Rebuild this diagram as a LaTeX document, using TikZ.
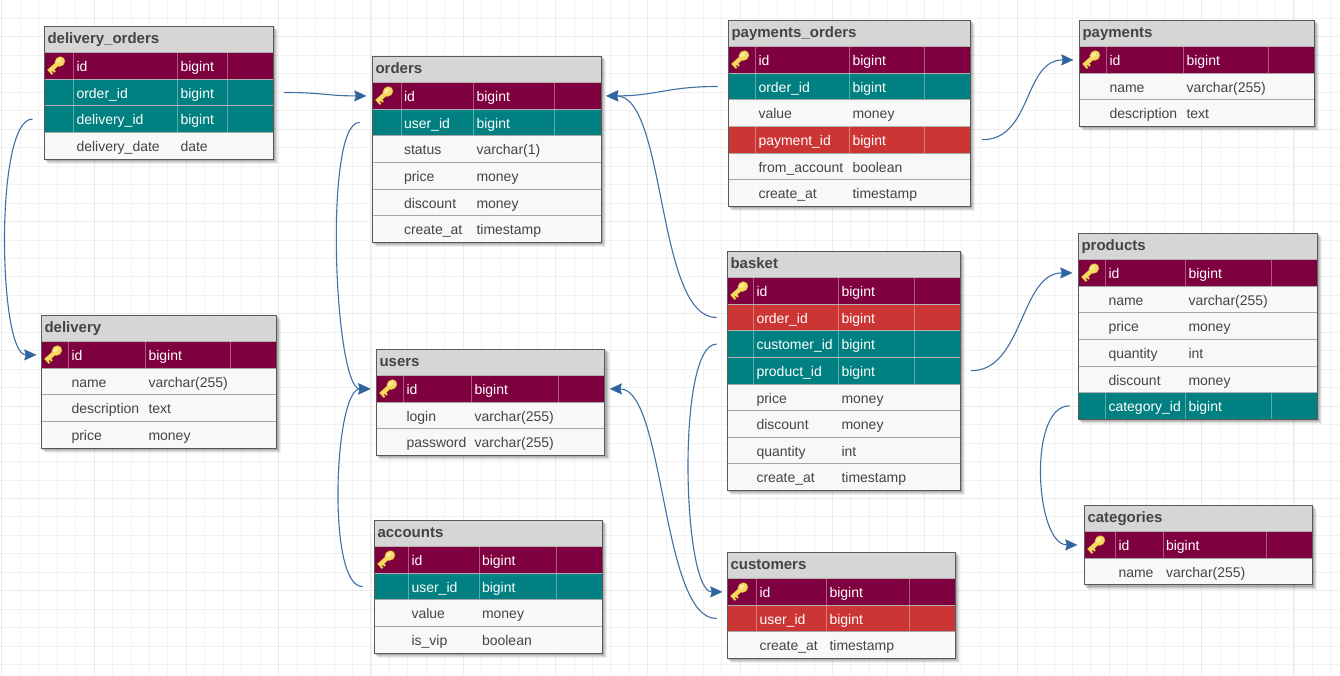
\documentclass[tikz,border=0pt]{standalone}
\usepackage{fontspec}
\setmainfont{Liberation Sans}
\usetikzlibrary{calc,arrows.meta}
\catcode`\_=12
\definecolor{pkcol}{HTML}{7F003F}
\definecolor{fkcol}{HTML}{008080}
\definecolor{redcol}{HTML}{CB3534}
\definecolor{plaincol}{HTML}{F8F8F8}
\definecolor{headcol}{HTML}{D6D6D6}
\definecolor{wirecol}{HTML}{3F6FA5}
\definecolor{tipcol}{HTML}{2F659F}
\definecolor{txtcol}{HTML}{444444}
\definecolor{keyfill}{HTML}{F6D862}
\definecolor{keyedge}{HTML}{C89B22}
\tikzset{
  x=1pt,y=-1pt,
  rowbox/.style={rectangle,inner sep=0pt,outer sep=0pt,anchor=north west,draw=none,minimum height=26.6pt},
  pk/.style={rowbox,fill=pkcol},
  fk/.style={rowbox,fill=fkcol},
  rd/.style={rowbox,fill=redcol},
  pl/.style={rowbox,fill=plaincol},
  headbox/.style={rowbox,fill=headcol},
  celltxt/.style={anchor=base west,inner sep=0pt,font=\fontsize{14}{14}\selectfont},
  hdrtxt/.style={anchor=base west,inner sep=0pt,text=txtcol,font=\fontsize{15}{15}\selectfont\bfseries},
  wire/.style={draw=wirecol,line width=1.1pt,line cap=round},
  wirearrow/.style={wire,-{Stealth[inset=1.5pt,length=12pt,width=11pt,color=tipcol,fill=tipcol,line width=.2pt]}},
  gridminor/.style={draw=black!5,line width=.6pt},
  gridmajor/.style={draw=black!8,line width=.8pt},
}
% \dbtable{id}{title}{x0}{x1}{y0}{c1}{c2}{c3}{rows}
\newcommand{\dbtable}[9]{%
  \pgfmathsetmacro{\tw}{#4-#3}
  \foreach \st/\fa/\fb [count=\k] in {#9}{\xdef\lastk{\k}}
  \pgfmathsetmacro{\th}{26.6*(\lastk+1)}
  \foreach \o/\a in {5/.06,4/.08,3/.10,2/.12}{
    \fill[black,opacity=\a] (#3+\o-1,#5+\o-1) rectangle (#4+\o,#5+\th+\o);
  }
  \node[headbox,minimum width=\tw pt] (#1) at (#3,#5) {};
  \node[hdrtxt] (#1-title) at (#3+3,#5+17.5) {#2};
  \foreach \st/\fa/\fb [count=\k] in {#9}{
    \pgfmathsetmacro{\yy}{#5+26.6*\k}
    \node[\st,minimum width=\tw pt] (#1-\fa) at (#3,\yy) {};
    \ifnum\pdfstrcmp{\st}{pl}=0 \def\tc{txtcol}\def\lc{black!35}\else \def\tc{white}\def\lc{black!30}\fi
    \node[celltxt,text=\tc] (#1-\fa-name) at (#6+3,\yy+19) {\fa};
    \node[celltxt,text=\tc] (#1-\fa-type) at (#7+3,\yy+19) {\fb};
    \draw[white,opacity=.35,line width=.6pt] (#6,\yy) -- (#6,\yy+26.6) (#7,\yy) -- (#7,\yy+26.6) (#8,\yy) -- (#8,\yy+26.6);
    \draw[\lc,line width=.8pt] (#3,\yy) -- (#4,\yy);
  }
  \draw[black!65,line width=1pt] (#3,#5) rectangle (#4,#5+\th);
  \drawkey{#3+12}{#5+38.8}
}
\newcommand{\drawkey}[2]{%
  \begin{scope}[shift={(#1,#2)},rotate=42]
    \fill[keyedge] (-10.2,-2.4) rectangle (3,2.4) (-10.2,1) rectangle (-8,4.6) (-6.8,1) rectangle (-4.6,4.6);
    \fill[keyedge] (4.8,0) ellipse (5.6 and 5);
    \fill[keyfill] (-9.8,-1.9) rectangle (3,1.9) (-9.8,1) rectangle (-8.4,4.1) (-6.4,1) rectangle (-5,4.1);
    \fill[keyfill] (4.8,0) ellipse (5 and 4.4);
    \fill[white,opacity=.45] (4.5,-1.4) ellipse (3 and 1.6);
  \end{scope}
}
\begin{document}
\begin{tikzpicture}
\useasboundingbox (0,0) rectangle (1340,675);
\fill[white] (0,0) rectangle (1340,675);
\begin{scope}
\clip (0,0) rectangle (1340,675);
\foreach \i in {0,...,72} \draw[gridminor] (1.6+18.46*\i,0) -- (1.6+18.46*\i,675);
\foreach \i in {0,...,37} \draw[gridminor] (0,18.3+18.46*\i) -- (1340,18.3+18.46*\i);
\foreach \i in {0,...,14} \draw[gridmajor] (1.6+92.3*\i,0) -- (1.6+92.3*\i,675);
\foreach \i in {0,...,7} \draw[gridmajor] (0,36.8+92.3*\i) -- (1340,36.8+92.3*\i);
\end{scope}
\begin{scope}[shift={(-0.7,0)}]
\dbtable{delivery_orders}{delivery_orders}{45}{274}{26}{74}{178}{227.5}{pk/id/bigint,fk/order_id/bigint,fk/delivery_id/bigint,pl/delivery_date/date}
\dbtable{orders}{orders}{373}{602}{56}{401.5}{474}{555}{pk/id/bigint,fk/user_id/bigint,pl/status/varchar(1),pl/price/money,pl/discount/money,pl/create_at/timestamp}
\dbtable{delivery}{delivery}{42}{277}{315}{69}{146}{231}{pk/id/bigint,pl/name/varchar(255),pl/description/text,pl/price/money}
\dbtable{users}{users}{377}{605.5}{349}{404}{472}{559}{pk/id/bigint,pl/login/varchar(255),pl/password/varchar(255)}
\dbtable{accounts}{accounts}{375}{603}{520}{409}{479.5}{557}{pk/id/bigint,fk/user_id/bigint,pl/value/money,pl/is_vip/boolean}
\dbtable{payments_orders}{payments_orders}{729}{971}{20}{756}{850}{925}{pk/id/bigint,fk/order_id/bigint,pl/value/money,rd/payment_id/bigint,pl/from_account/boolean,pl/create_at/timestamp}
\dbtable{payments}{payments}{1080}{1315}{20}{1107}{1184}{1269}{pk/id/bigint,pl/name/varchar(255),pl/description/text}
\dbtable{basket}{basket}{728}{961}{251}{754}{839}{915}{pk/id/bigint,rd/order_id/bigint,fk/customer_id/bigint,fk/product_id/bigint,pl/price/money,pl/discount/money,pl/quantity/int,pl/create_at/timestamp}
\dbtable{products}{products}{1079}{1318}{233}{1106}{1186}{1272}{pk/id/bigint,pl/name/varchar(255),pl/price/money,pl/quantity/int,pl/discount/money,fk/category_id/bigint}
\dbtable{categories}{categories}{1085}{1313}{505}{1116}{1163.5}{1267}{pk/id/bigint,pl/name/varchar(255)}
\dbtable{customers}{customers}{728}{956}{552}{757}{827}{910}{pk/id/bigint,rd/user_id/bigint,pl/create_at/timestamp}
\end{scope}

\draw[wirearrow] ($(delivery_orders-order_id.east)+(11,0)$) .. controls +(40,0) and +(-40,0) .. ($(orders-id.west)+(-6,0)$);
\draw[wirearrow] ($(delivery_orders-delivery_id.west)+(-12,0)$) .. controls +(-38,0) and +(-38,0) .. ($(delivery-id.west)+(-5,0)$);
\draw[wirearrow] ($(orders-user_id.west)+(-13,0)$) .. controls +(-36,0) and +(-36,0) .. ($(users-id.west)+(-6,0)$);
\draw[wirearrow] ($(accounts-user_id.west)+(-12,0)$) .. controls +(-36,0) and +(-36,0) .. ($(users-id.west)+(-6,0)$);
\draw[wirearrow] ($(payments_orders-order_id.west)+(-11,0)$) .. controls +(-50,0) and +(50,0) .. ($(orders-id.east)+(5,0)$);
\draw[wirearrow] ($(basket-order_id.west)+(-11,0)$) .. controls +(-60,0) and +(60,0) .. ($(orders-id.east)+(5,0)$);
\draw[wirearrow] ($(payments_orders-payment_id.east)+(12,0)$) .. controls +(50,0) and +(-50,0) .. ($(payments-id.west)+(-6,0)$);
\draw[wirearrow] ($(basket-product_id.east)+(11,0)$) .. controls +(52,0) and +(-52,0) .. ($(products-id.west)+(-6,0)$);
\draw[wirearrow] ($(basket-customer_id.west)+(-11,0)$) .. controls +(-40,0) and +(-40,0) .. ($(customers-id.west)+(-5,0)$);
\draw[wirearrow] ($(customers-user_id.west)+(-11,0)$) .. controls +(-55,0) and +(55,0) .. ($(users-id.east)+(5,0)$);
\draw[wirearrow] ($(products-category_id.west)+(-9,0)$) .. controls +(-42,0) and +(-42,0) .. ($(categories-id.west)+(-7,0)$);
\end{tikzpicture}
\end{document}
